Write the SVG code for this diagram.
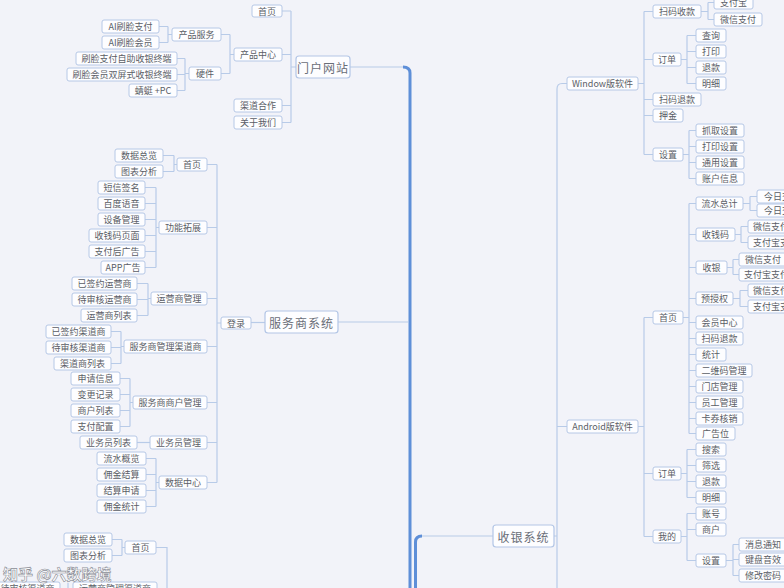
<svg xmlns="http://www.w3.org/2000/svg" width="784" height="588" viewBox="0 0 784 588">
<style>
.n rect{fill:#fdfdff;stroke:#b6c8e6;stroke-width:1}
.n text{font-family:"Noto Sans CJK SC","Liberation Sans",sans-serif;font-size:9px;fill:#5a5d66;text-anchor:middle;dominant-baseline:central}
.n.l text{text-anchor:start}
.b rect{stroke:#b3c6e6;stroke-width:1.2}
.b text{font-size:12px;fill:#6a6e78;letter-spacing:1px}
.c path{fill:none;stroke:#b8cbe8;stroke-width:1.2}
.c path.t{stroke:#5e8fd8;stroke-width:3}
.wm{font-family:"Noto Sans CJK SC","Liberation Sans",sans-serif;font-size:15px;font-weight:bold;fill:#ffffff;stroke:#8a8d96;stroke-width:0.6}
</style>
<rect x="0" y="0" width="784" height="588" fill="#f2f3f9"/>

<g id="connectors" class="c">
  <path d="M350,67H404"/>
  <path class="t" d="M403,67Q410,67 410,73V588"/>
  <path d="M338,322H408"/>
  <path d="M493,536H421"/>
  <path class="t" d="M422,536Q415.5,536 415.5,542V588"/>
  <!-- 门户网站 -->
  <path d="M296,67H291M291,11V122.5M291,11H282M291,54.5H282M291,105.5H282M291,122.5H282"/>
  <path d="M234,54.5H230M230,34.5V73.5M230,34.5H221M230,73.5H221"/>
  <path d="M172,34.5H168M168,26.5V42.5M168,26.5H159M168,42.5H159"/>
  <path d="M189,73.5H185M185,58.5V90.5M185,58.5H177M185,74.5H177M185,90.5H177"/>
  <!-- 服务商系统 -->
  <path d="M265,322.5H251"/>
  <path d="M221,323H217M217,164.5V482.5M217,164.5H207M217,227.5H207M217,298.5H207M217,346.5H207M217,402.5H207M217,442.5H207M217,482.5H207"/>
  <path d="M177,164.5H174M174,155.5V171.5M174,155.5H163M174,171.5H163"/>
  <path d="M159,227.5H156M156,187.5V267.5M156,187.5H145M156,203.5H145M156,219.5H145M156,235.5H145M156,251.5H145M156,267.5H145"/>
  <path d="M151,298.5H148M148,283.5V315.5M148,283.5H137M148,299.5H137M148,315.5H137"/>
  <path d="M124,346.5H121M121,331.5V363.5M121,331.5H111M121,347.5H111M121,363.5H111"/>
  <path d="M133,402.5H130M130,378.5V426.5M130,378.5H120M130,394.5H120M130,410.5H120M130,426.5H120"/>
  <path d="M150,442.5H137"/>
  <path d="M159,482.5H156M156,458.5V506.5M156,458.5H146M156,474.5H146M156,490.5H146M156,506.5H146"/>
  <!-- bottom left -->
  <path d="M125,547.5H122M122,539.5V555.5M122,539.5H112M122,555.5H112"/>
  <path d="M156,547.5H167V588"/>
  <path d="M68,583V588"/>
  <!-- 收银系统 -->
  <path d="M557,588V89Q557,83.5 562,83.5H567M554,536H557M557,426.5H567"/>
  <path d="M638,83.5H644M644,11.5V154.5M644,11.5H653M644,59.5H653M644,99.5H653M644,115.5H653M644,154.5H653"/>
  <path d="M701,11.5H708M708,2.5V19.5M708,2.5H714M708,19.5H714"/>
  <path d="M681,59.5H687M687,35.5V83.5M687,35.5H696M687,51.5H696M687,67.5H696M687,83.5H696"/>
  <path d="M683,154.5H689M689,130.5V178.5M689,130.5H696M689,146.5H696M689,162.5H696M689,178.5H696"/>
  <path d="M638,426.5H644M644,317.5V536.5M644,317.5H653M644,473.5H653M644,536.5H653"/>
  <path d="M683,317.5H689M689,203.5V433.5M689,203.5H696M689,234.5H696M689,267.5H696M689,298.5H696M689,322.5H696M689,338.5H696M689,354.5H696M689,370.5H696M689,386.5H696M689,402.5H696M689,418.5H696M689,433.5H696"/>
  <path d="M743,203.5H750M750,196.5V210.5M750,196.5H757M750,210.5H757"/>
  <path d="M735,234.5H741M741,226.5V242.5M741,226.5H748M741,242.5H748"/>
  <path d="M727,267.5H733M733,259.5V274.5M733,259.5H739M733,274.5H739"/>
  <path d="M733,298.5H740M740,290.5V306.5M740,290.5H748M740,306.5H748"/>
  <path d="M681,473.5H687M687,449.5V497.5M687,449.5H696M687,465.5H696M687,481.5H696M687,497.5H696"/>
  <path d="M681,536.5H687M687,513.5V560.5M687,513.5H696M687,529.5H696M687,560.5H696"/>
  <path d="M726,560.5H733M733,544.5V575.5M733,544.5H739M733,559.5H739M733,575.5H739"/>
</g>

<!-- 门户网站 -->
<g id="n-portal" class="n b"><rect x="296" y="56" width="54" height="22" rx="3"/><text x="323" y="67">门户网站</text></g>
<g id="n-portal-home" class="n"><rect x="252" y="5" width="30" height="12" rx="2"/><text x="267" y="11">首页</text></g>
<g id="n-product-center" class="n"><rect x="234" y="48" width="48" height="13" rx="2"/><text x="258" y="54.5">产品中心</text></g>
<g id="n-channel" class="n"><rect x="234" y="99" width="48" height="13" rx="2"/><text x="258" y="105.5">渠道合作</text></g>
<g id="n-about" class="n"><rect x="234" y="116" width="48" height="13" rx="2"/><text x="258" y="122.5">关于我们</text></g>
<g id="n-product-service" class="n"><rect x="172" y="28" width="49" height="13" rx="2"/><text x="196.5" y="34.5">产品服务</text></g>
<g id="n-hardware" class="n"><rect x="189" y="67" width="32" height="13" rx="2"/><text x="205" y="73.5">硬件</text></g>
<g id="n-ai-pay" class="n"><rect x="102" y="20" width="57" height="13" rx="2"/><text x="130.5" y="26.5">AI刷脸支付</text></g>
<g id="n-ai-member" class="n"><rect x="102" y="36" width="57" height="13" rx="2"/><text x="130.5" y="42.5">AI刷脸会员</text></g>
<g id="n-hw1" class="n"><rect x="76" y="52" width="101" height="13" rx="2"/><text x="126.5" y="58.5">刷脸支付自助收银终端</text></g>
<g id="n-hw2" class="n"><rect x="67" y="68" width="110" height="13" rx="2"/><text x="122" y="74.5">刷脸会员双屏式收银终端</text></g>
<g id="n-hw3" class="n"><rect x="129" y="84" width="48" height="13" rx="2"/><text x="153" y="90.5">蜻蜓 +PC</text></g>

<!-- 服务商系统 -->
<g id="s-root" class="n b"><rect x="265" y="311" width="73" height="22" rx="3"/><text x="301.5" y="322">服务商系统</text></g>
<g id="s-login" class="n"><rect x="221" y="317" width="30" height="12" rx="2"/><text x="236" y="323">登录</text></g>
<g id="s-home" class="n"><rect x="177" y="158" width="30" height="13" rx="2"/><text x="192" y="164.5">首页</text></g>
<g id="s-ext" class="n"><rect x="159" y="221" width="48" height="13" rx="2"/><text x="183" y="227.5">功能拓展</text></g>
<g id="s-op" class="n"><rect x="151" y="292" width="56" height="13" rx="2"/><text x="179" y="298.5">运营商管理</text></g>
<g id="s-ch" class="n"><rect x="124" y="340" width="83" height="13" rx="2"/><text x="165.5" y="346.5">服务商管理渠道商</text></g>
<g id="s-mer" class="n"><rect x="133" y="396" width="74" height="13" rx="2"/><text x="170" y="402.5">服务商商户管理</text></g>
<g id="s-sales" class="n"><rect x="150" y="436" width="57" height="13" rx="2"/><text x="178.5" y="442.5">业务员管理</text></g>
<g id="s-data" class="n"><rect x="159" y="476" width="48" height="13" rx="2"/><text x="183" y="482.5">数据中心</text></g>
<g id="s-home-1" class="n"><rect x="115" y="149" width="48" height="13" rx="2"/><text x="139" y="155.5">数据总览</text></g>
<g id="s-home-2" class="n"><rect x="115" y="165" width="48" height="13" rx="2"/><text x="139" y="171.5">图表分析</text></g>
<g id="s-ext-1" class="n"><rect x="98" y="181" width="47" height="13" rx="2"/><text x="121.5" y="187.5">短信签名</text></g>
<g id="s-ext-2" class="n"><rect x="98" y="197" width="47" height="13" rx="2"/><text x="121.5" y="203.5">百度语音</text></g>
<g id="s-ext-3" class="n"><rect x="98" y="213" width="47" height="13" rx="2"/><text x="121.5" y="219.5">设备管理</text></g>
<g id="s-ext-4" class="n"><rect x="89" y="229" width="56" height="13" rx="2"/><text x="117" y="235.5">收钱码页面</text></g>
<g id="s-ext-5" class="n"><rect x="89" y="245" width="56" height="13" rx="2"/><text x="117" y="251.5">支付后广告</text></g>
<g id="s-ext-6" class="n"><rect x="101" y="261" width="44" height="13" rx="2"/><text x="123" y="267.5">APP广告</text></g>
<g id="s-op-1" class="n"><rect x="72" y="277" width="65" height="13" rx="2"/><text x="104.5" y="283.5">已签约运营商</text></g>
<g id="s-op-2" class="n"><rect x="72" y="293" width="65" height="13" rx="2"/><text x="104.5" y="299.5">待审核运营商</text></g>
<g id="s-op-3" class="n"><rect x="81" y="309" width="56" height="13" rx="2"/><text x="109" y="315.5">运营商列表</text></g>
<g id="s-ch-1" class="n"><rect x="46" y="325" width="65" height="13" rx="2"/><text x="78.5" y="331.5">已签约渠道商</text></g>
<g id="s-ch-2" class="n"><rect x="46" y="341" width="65" height="13" rx="2"/><text x="78.5" y="347.5">待审核渠道商</text></g>
<g id="s-ch-3" class="n"><rect x="54" y="357" width="57" height="13" rx="2"/><text x="82.5" y="363.5">渠道商列表</text></g>
<g id="s-mer-1" class="n"><rect x="71" y="372" width="49" height="13" rx="2"/><text x="95.5" y="378.5">申请信息</text></g>
<g id="s-mer-2" class="n"><rect x="71" y="388" width="49" height="13" rx="2"/><text x="95.5" y="394.5">变更记录</text></g>
<g id="s-mer-3" class="n"><rect x="71" y="404" width="49" height="13" rx="2"/><text x="95.5" y="410.5">商户列表</text></g>
<g id="s-mer-4" class="n"><rect x="71" y="420" width="49" height="13" rx="2"/><text x="95.5" y="426.5">支付配置</text></g>
<g id="s-sales-1" class="n"><rect x="80" y="436" width="57" height="13" rx="2"/><text x="108.5" y="442.5">业务员列表</text></g>
<g id="s-data-1" class="n"><rect x="97" y="452" width="49" height="13" rx="2"/><text x="121.5" y="458.5">流水概览</text></g>
<g id="s-data-2" class="n"><rect x="97" y="468" width="49" height="13" rx="2"/><text x="121.5" y="474.5">佣金结算</text></g>
<g id="s-data-3" class="n"><rect x="97" y="484" width="49" height="13" rx="2"/><text x="121.5" y="490.5">结算申请</text></g>
<g id="s-data-4" class="n"><rect x="97" y="500" width="49" height="13" rx="2"/><text x="121.5" y="506.5">佣金统计</text></g>

<!-- bottom left -->
<g id="b-home" class="n"><rect x="125" y="541" width="31" height="13" rx="2"/><text x="140.5" y="547.5">首页</text></g>
<g id="b-home-1" class="n"><rect x="64" y="533" width="48" height="13" rx="2"/><text x="88" y="539.5">数据总览</text></g>
<g id="b-home-2" class="n"><rect x="64" y="549" width="48" height="13" rx="2"/><text x="88" y="555.5">图表分析</text></g>
<g id="b-cut-1" class="n"><rect x="-5" y="582" width="65" height="13" rx="2"/><text x="27.5" y="588.5">待审核渠道商</text></g>
<g id="b-cut-2" class="n"><rect x="73" y="582" width="84" height="13" rx="2"/><text x="115" y="588.5">运营商管理渠道商</text></g>

<!-- 收银系统 -->
<g id="r-root" class="n b"><rect x="493" y="525" width="61" height="22" rx="3"/><text x="523.5" y="536">收银系统</text></g>
<g id="w-root" class="n"><rect x="567" y="77" width="71" height="13" rx="2"/><text x="602.5" y="83.5">Window版软件</text></g>
<g id="w-scan" class="n"><rect x="653" y="5" width="48" height="13" rx="2"/><text x="677" y="11.5">扫码收款</text></g>
<g id="w-order" class="n"><rect x="653" y="53" width="28" height="13" rx="2"/><text x="667" y="59.5">订单</text></g>
<g id="w-refund" class="n"><rect x="653" y="93" width="48" height="13" rx="2"/><text x="677" y="99.5">扫码退款</text></g>
<g id="w-deposit" class="n"><rect x="653" y="109" width="30" height="13" rx="2"/><text x="668" y="115.5">押金</text></g>
<g id="w-set" class="n"><rect x="653" y="148" width="30" height="13" rx="2"/><text x="668" y="154.5">设置</text></g>
<g id="w-scan-1" class="n"><rect x="714" y="-4" width="39" height="13" rx="2"/><text x="733.5" y="2.5">支付宝</text></g>
<g id="w-scan-2" class="n"><rect x="714" y="13" width="48" height="13" rx="2"/><text x="738" y="19.5">微信支付</text></g>
<g id="w-order-1" class="n"><rect x="696" y="29" width="30" height="13" rx="2"/><text x="711" y="35.5">查询</text></g>
<g id="w-order-2" class="n"><rect x="696" y="45" width="30" height="13" rx="2"/><text x="711" y="51.5">打印</text></g>
<g id="w-order-3" class="n"><rect x="696" y="61" width="30" height="13" rx="2"/><text x="711" y="67.5">退款</text></g>
<g id="w-order-4" class="n"><rect x="696" y="77" width="30" height="13" rx="2"/><text x="711" y="83.5">明细</text></g>
<g id="w-set-1" class="n"><rect x="696" y="124" width="48" height="13" rx="2"/><text x="720" y="130.5">抓取设置</text></g>
<g id="w-set-2" class="n"><rect x="696" y="140" width="48" height="13" rx="2"/><text x="720" y="146.5">打印设置</text></g>
<g id="w-set-3" class="n"><rect x="696" y="156" width="48" height="13" rx="2"/><text x="720" y="162.5">通用设置</text></g>
<g id="w-set-4" class="n"><rect x="696" y="172" width="48" height="13" rx="2"/><text x="720" y="178.5">账户信息</text></g>

<g id="a-root" class="n"><rect x="567" y="420" width="71" height="13" rx="2"/><text x="602.5" y="426.5">Android版软件</text></g>
<g id="a-home" class="n"><rect x="653" y="311" width="30" height="13" rx="2"/><text x="668" y="317.5">首页</text></g>
<g id="a-order" class="n"><rect x="653" y="467" width="28" height="13" rx="2"/><text x="667" y="473.5">订单</text></g>
<g id="a-mine" class="n"><rect x="653" y="530" width="28" height="13" rx="2"/><text x="667" y="536.5">我的</text></g>
<g id="a-h1" class="n"><rect x="696" y="197" width="47" height="13" rx="2"/><text x="719.5" y="203.5">流水总计</text></g>
<g id="a-h2" class="n"><rect x="696" y="228" width="39" height="13" rx="2"/><text x="715.5" y="234.5">收钱码</text></g>
<g id="a-h3" class="n"><rect x="696" y="261" width="31" height="13" rx="2"/><text x="711.5" y="267.5">收银</text></g>
<g id="a-h4" class="n"><rect x="696" y="292" width="37" height="13" rx="2"/><text x="714.5" y="298.5">预授权</text></g>
<g id="a-h5" class="n"><rect x="696" y="316" width="47" height="13" rx="2"/><text x="719.5" y="322.5">会员中心</text></g>
<g id="a-h6" class="n"><rect x="696" y="332" width="47" height="13" rx="2"/><text x="719.5" y="338.5">扫码退款</text></g>
<g id="a-h7" class="n"><rect x="696" y="348" width="30" height="13" rx="2"/><text x="711" y="354.5">统计</text></g>
<g id="a-h8" class="n"><rect x="696" y="364" width="56" height="13" rx="2"/><text x="724" y="370.5">二维码管理</text></g>
<g id="a-h9" class="n"><rect x="696" y="380" width="47" height="13" rx="2"/><text x="719.5" y="386.5">门店管理</text></g>
<g id="a-h10" class="n"><rect x="696" y="396" width="47" height="13" rx="2"/><text x="719.5" y="402.5">员工管理</text></g>
<g id="a-h11" class="n"><rect x="696" y="412" width="47" height="13" rx="2"/><text x="719.5" y="418.5">卡券核销</text></g>
<g id="a-h12" class="n"><rect x="696" y="427" width="39" height="13" rx="2"/><text x="715.5" y="433.5">广告位</text></g>
<g id="a-h1-1" class="n l"><rect x="757" y="190" width="66" height="13" rx="2"/><text x="764" y="196.5">今日交易金额</text></g>
<g id="a-h1-2" class="n l"><rect x="757" y="204" width="66" height="13" rx="2"/><text x="764" y="210.5">今日交易笔数</text></g>
<g id="a-h2-1" class="n l"><rect x="748" y="220" width="48" height="13" rx="2"/><text x="753" y="226.5">微信支付</text></g>
<g id="a-h2-2" class="n l"><rect x="748" y="236" width="58" height="13" rx="2"/><text x="753" y="242.5">支付宝支付</text></g>
<g id="a-h3-1" class="n"><rect x="739" y="253" width="48" height="13" rx="2"/><text x="763" y="259.5">微信支付</text></g>
<g id="a-h3-2" class="n l"><rect x="739" y="268" width="58" height="13" rx="2"/><text x="744" y="274.5">支付宝支付</text></g>
<g id="a-h4-1" class="n l"><rect x="748" y="284" width="48" height="13" rx="2"/><text x="753" y="290.5">微信支付</text></g>
<g id="a-h4-2" class="n l"><rect x="748" y="300" width="58" height="13" rx="2"/><text x="753" y="306.5">支付宝支付</text></g>
<g id="a-o1" class="n"><rect x="696" y="443" width="30" height="13" rx="2"/><text x="711" y="449.5">搜索</text></g>
<g id="a-o2" class="n"><rect x="696" y="459" width="30" height="13" rx="2"/><text x="711" y="465.5">筛选</text></g>
<g id="a-o3" class="n"><rect x="696" y="475" width="30" height="13" rx="2"/><text x="711" y="481.5">退款</text></g>
<g id="a-o4" class="n"><rect x="696" y="491" width="30" height="13" rx="2"/><text x="711" y="497.5">明细</text></g>
<g id="a-m1" class="n"><rect x="696" y="507" width="30" height="13" rx="2"/><text x="711" y="513.5">账号</text></g>
<g id="a-m2" class="n"><rect x="696" y="523" width="30" height="13" rx="2"/><text x="711" y="529.5">商户</text></g>
<g id="a-m3" class="n"><rect x="696" y="554" width="30" height="13" rx="2"/><text x="711" y="560.5">设置</text></g>
<g id="a-m3-1" class="n"><rect x="739" y="538" width="48" height="13" rx="2"/><text x="763" y="544.5">消息通知</text></g>
<g id="a-m3-2" class="n"><rect x="739" y="553" width="48" height="13" rx="2"/><text x="763" y="559.5">键盘音效</text></g>
<g id="a-m3-3" class="n"><rect x="739" y="569" width="48" height="13" rx="2"/><text x="763" y="575.5">修改密码</text></g>

<text class="wm" x="3" y="580">知乎 @六数跨境</text>
</svg>
